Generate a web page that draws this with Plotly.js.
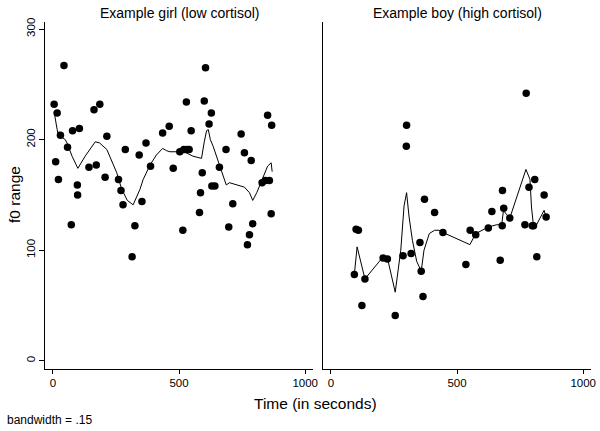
<!DOCTYPE html>
<html>
<head>
<meta charset="utf-8">
<script src="https://cdn.plot.ly/plotly-3.0.1.min.js"></script>
<style>html,body{margin:0;padding:0;background:#fff;}#chart{width:600px;height:431px;}</style>
</head>
<body>
<div id="chart"></div>
<script>
// Left panel: Example girl (low cortisol)
const girlTime = [5,17,44,30,58,11,22,78,105,97,163,186,214,143,172,207,260,287,342,369,387,435,461,477,529,503,519,531,540,605,600,628,619,548,746,686,759,786,851,867,660,592,630,642,829,842,858,98,73,270,278,353,325,314,515,585,713,581,697,792,779,771,865];
const girlF0   = [232,224,267,204,193,180,164,208,210,159,227,232,203,175,177,166,164,191,186,197,176,206,212,174,234,189,191,191,191,265,235,224,214,208,205,191,188,181,222,213,175,170,158,158,161,163,163,150,123,154,141,144,122,94,118,152,142,134,121,124,114,105,133];
const girlSmoothTime = [5,10,17,21,24,30,36,43,49,56,76,99,128,168,185,214,253,273,295,318,345,358,385,410,435,450,464,503,529,555,589,600,609,616,624,635,661,687,700,713,733,759,779,792,808,825,851,865,869];
const girlSmoothF0   = [225,217,209,205,207,203,202,201,200,197,185,174,185,198,197,191,170,155,145,141,155,164,177,186,192,190,189,189,188,185,183,198,208,209,200,194,176,159,161,160,159,157,152,145,152,161,176,179,171];

// Right panel: Example boy (high cortisol)
const boyTime = [93,100,109,123,135,207,224,255,286,299,300,318,353,358,365,371,411,444,535,552,574,624,638,671,679,680,685,709,769,774,785,798,803,808,816,845,853];
const boyF0   = [78,119,118,50,74,93,92,41,95,194,213,97,107,81,58,146,134,116,87,118,114,120,135,91,122,154,138,129,123,242,157,122,122,164,94,150,130];
const boySmoothTime = [93,104,135,207,224,255,277,290,300,310,323,340,358,369,390,411,428,444,551,574,625,657,677,684,697,709,773,789,795,802,815,845,853];
const boySmoothF0   = [78,103,74,94,93,62,100,140,152,130,109,90,81,100,115,118,118,116,105,115,121,123,123,136,132,129,173,164,139,124,123,136,130];

const xTicks = [0,500,1000];
const yTicks = [0,100,200,300];
const panelTitles = ["Example girl (low cortisol)","Example boy (high cortisol)"];

const FONT = "Liberation Sans, Arial, sans-serif";
const dot = {color:"#000", size:7.5, line:{width:0}};
const ln = {color:"#000", width:1};

const traces = [
  {x:girlTime, y:girlF0, type:"scatter", mode:"markers", marker:dot, xaxis:"x", yaxis:"y", hoverinfo:"skip"},
  {x:girlSmoothTime, y:girlSmoothF0, type:"scatter", mode:"lines", line:ln, xaxis:"x", yaxis:"y", hoverinfo:"skip"},
  {x:boyTime, y:boyF0, type:"scatter", mode:"markers", marker:dot, xaxis:"x2", yaxis:"y2", hoverinfo:"skip"},
  {x:boySmoothTime, y:boySmoothF0, type:"scatter", mode:"lines", line:ln, xaxis:"x2", yaxis:"y2", hoverinfo:"skip"}
];

const xBase = {range:[-30,1032], showgrid:false, zeroline:false, showline:true, linecolor:"#000", linewidth:1,
  ticks:"outside", ticklen:4, tickcolor:"#000", tickvals:xTicks, ticktext:xTicks.map(String),
  tickfont:{family:FONT, size:11.5, color:"#000"}};
const yDomain = [1-368.5/431, 1-21.7/431];

const layout = {
  width:600, height:431, margin:{l:0,r:0,t:0,b:0},
  paper_bgcolor:"#fff", plot_bgcolor:"#fff", showlegend:false,
  font:{family:FONT, color:"#000"},
  xaxis: Object.assign({}, xBase, {domain:[45.3/600, 313.3/600], anchor:"y"}),
  xaxis2: Object.assign({}, xBase, {domain:[323.3/600, 591.3/600], anchor:"y2"}),
  yaxis: {domain:yDomain, range:[-7,306.6], anchor:"x", showgrid:false, zeroline:false, showline:true,
    linecolor:"#000", linewidth:1, ticks:"outside", ticklen:5, tickcolor:"#000",
    tickvals:yTicks, ticktext:yTicks.map(String), tickangle:-90,
    tickfont:{family:FONT, size:11.5, color:"#000"}},
  yaxis2: {domain:yDomain, range:[-7,306.6], anchor:"x2", showgrid:false, zeroline:false, showline:true,
    linecolor:"#000", linewidth:1, ticks:"", showticklabels:false},
  annotations:[
    {text:panelTitles[0], xref:"paper", yref:"paper", x:179/600, y:1-13/431, xanchor:"center", yanchor:"middle", showarrow:false, font:{family:FONT, size:14, color:"#000"}},
    {text:panelTitles[1], xref:"paper", yref:"paper", x:457/600, y:1-13/431, xanchor:"center", yanchor:"middle", showarrow:false, font:{family:FONT, size:14, color:"#000"}},
    {text:"Time (in seconds)", xref:"paper", yref:"paper", x:315/600, y:1-403/431, xanchor:"center", yanchor:"middle", showarrow:false, font:{family:FONT, size:15.5, color:"#000"}},
    {text:"f0 range", xref:"paper", yref:"paper", x:14/600, y:1-195/431, xanchor:"center", yanchor:"middle", textangle:-90, showarrow:false, font:{family:FONT, size:15.5, color:"#000"}},
    {text:"bandwidth = .15", xref:"paper", yref:"paper", x:5/600, y:1-420/431, xanchor:"left", yanchor:"middle", showarrow:false, font:{family:FONT, size:12, color:"#000"}}
  ]
};

Plotly.newPlot("chart", traces, layout, {staticPlot:true, displayModeBar:false});
</script>
</body>
</html>
